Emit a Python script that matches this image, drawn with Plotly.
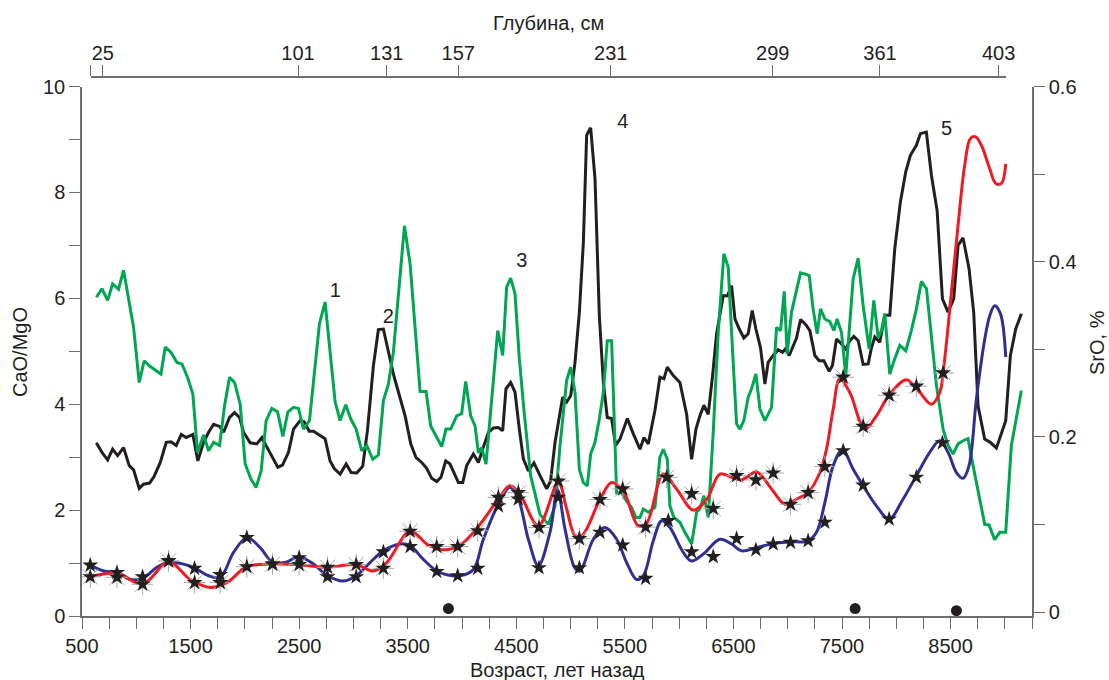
import plotly.graph_objects as go

# ---------------- data ----------------
black_age = [632, 684, 736, 782, 828, 883, 935, 975, 1027, 1067, 1123, 1165, 1221, 1276, 1319, 1368, 1414, 1460,
             1521, 1567, 1620, 1666, 1712, 1767, 1804, 1859, 1905, 1951, 1988, 2049, 2110, 2157, 2203, 2248, 2304,
             2347, 2402, 2448, 2509, 2546, 2592, 2632, 2687, 2739, 2785, 2825, 2878, 2933, 2979, 3031, 3086, 3129,
             3184, 3230, 3276, 3322, 3368, 3424, 3476, 3528, 3577, 3629, 3675, 3721, 3767, 3807, 3850, 3890, 3936,
             3967, 4007, 4043, 4105, 4151, 4197, 4243, 4289, 4335, 4375, 4405, 4448, 4488, 4528, 4565, 4611, 4663,
             4712, 4780, 4816, 4857, 4927, 4964, 5001, 5041, 5081, 5118, 5148, 5185, 5225, 5265, 5302, 5338, 5378,
             5415, 5455, 5523, 5578, 5639, 5676, 5716, 5777, 5823, 5860, 5891, 5946, 6007, 6069, 6115, 6155, 6191,
             6228, 6268, 6308, 6345, 6406, 6446, 6483, 6514, 6554, 6596, 6636, 6673, 6707, 6750, 6790, 6820, 6866,
             6912, 6952, 6977, 7014, 7050, 7081, 7118, 7167, 7204, 7250, 7290, 7333, 7382, 7412, 7449, 7495, 7535,
             7572, 7609, 7649, 7695, 7741, 7771, 7802, 7848, 7894, 7940, 7986, 8038, 8087, 8130, 8185, 8222, 8277,
             8324, 8376, 8425, 8477, 8529, 8569, 8615, 8670, 8713, 8753, 8814, 8866, 8922, 8959, 9008, 9051, 9100,
             9152]
black_val = [3.27, 3.09, 2.95, 3.15, 3.03, 3.18, 2.84, 2.76, 2.41, 2.49, 2.51, 2.64, 2.90, 3.28, 3.29, 3.22, 3.43,
             3.37, 3.43, 2.93, 3.28, 3.47, 3.62, 3.58, 3.47, 3.75, 3.84, 3.75, 3.47, 3.27, 3.25, 3.37, 3.19, 3.03,
             2.81, 2.85, 3.09, 3.53, 3.69, 3.67, 3.49, 3.49, 3.42, 3.35, 2.93, 2.78, 2.68, 2.87, 2.71, 2.70, 2.83,
             3.50, 4.73, 5.41, 5.42, 5.01, 4.57, 4.16, 3.78, 3.25, 2.99, 2.90, 2.79, 2.60, 2.54, 2.62, 2.93, 2.87,
             2.65, 2.52, 2.52, 2.84, 3.06, 2.90, 3.19, 3.47, 3.55, 3.56, 3.50, 4.29, 4.41, 4.23, 3.53, 2.97, 2.74,
             2.89, 2.68, 2.40, 2.55, 3.28, 4.13, 4.04, 4.16, 4.79, 5.74, 7.06, 9.08, 9.22, 8.26, 5.67, 4.41, 3.75,
             3.73, 3.22, 3.34, 3.73, 3.44, 3.15, 3.37, 3.25, 3.88, 4.51, 4.48, 4.70, 4.54, 4.41, 3.81, 2.96, 3.53,
             3.78, 3.98, 3.81, 4.54, 5.33, 6.05, 6.05, 6.24, 5.61, 5.42, 5.25, 5.33, 5.77, 5.42, 5.06, 4.38, 4.79,
             4.92, 5.03, 4.98, 5.04, 4.92, 5.11, 5.25, 5.60, 5.50, 5.39, 4.92, 4.82, 4.82, 4.62, 4.73, 5.23, 5.14,
             5.04, 5.20, 5.28, 5.20, 4.75, 4.76, 5.06, 5.27, 5.17, 5.68, 5.68, 6.94, 7.82, 8.39, 8.70, 8.89, 9.11,
             9.14, 8.32, 7.66, 5.99, 5.74, 5.99, 7.00, 7.14, 6.56, 5.74, 3.97, 3.34, 3.28, 3.17, 3.40, 3.69, 4.92,
             5.42, 5.71]

green_age = [632, 684, 736, 782, 837, 883, 929, 975, 1027, 1073, 1123, 1175, 1227, 1267, 1319, 1374, 1420, 1472,
             1521, 1564, 1620, 1666, 1712, 1767, 1813, 1859, 1905, 1957, 2003, 2055, 2104, 2150, 2196, 2248, 2301,
             2350, 2396, 2448, 2494, 2540, 2595, 2641, 2687, 2739, 2785, 2831, 2877, 2929, 2976, 3025, 3077, 3123,
             3178, 3230, 3276, 3322, 3368, 3414, 3470, 3522, 3568, 3614, 3669, 3712, 3761, 3813, 3853, 3896, 3951,
             3997, 4034, 4080, 4120, 4151, 4181, 4221, 4289, 4329, 4375, 4411, 4448, 4488, 4528, 4571, 4632, 4681,
             4718, 4795, 4857, 4903, 4964, 5001, 5041, 5081, 5118, 5154, 5185, 5225, 5265, 5302, 5338, 5378, 5424,
             5470, 5516, 5562, 5602, 5639, 5670, 5716, 5777, 5823, 5854, 5891, 5915, 5952, 6007, 6053, 6115, 6161,
             6191, 6228, 6268, 6314, 6360, 6412, 6452, 6492, 6529, 6560, 6596, 6636, 6667, 6707, 6744, 6790, 6851,
             6897, 6934, 6968, 6995, 7035, 7075, 7118, 7158, 7198, 7234, 7271, 7302, 7342, 7388, 7425, 7455, 7495,
             7535, 7563, 7603, 7649, 7695, 7750, 7793, 7833, 7864, 7894, 7940, 7986, 8032, 8087, 8139, 8185, 8231,
             8278, 8324, 8370, 8431, 8477, 8523, 8569, 8615, 8661, 8707, 8769, 8815, 8854, 8906, 8953, 9008, 9060,
             9100, 9152]
green_val = [6.02, 6.18, 5.96, 6.27, 6.17, 6.53, 5.99, 5.45, 4.41, 4.82, 4.72, 4.65, 4.57, 5.08, 4.98, 4.79, 4.76,
             4.51, 4.19, 3.09, 3.42, 3.12, 3.28, 3.22, 3.97, 4.51, 4.41, 4.00, 2.87, 2.59, 2.43, 2.74, 3.69, 3.92,
             3.86, 3.39, 3.85, 3.94, 3.92, 3.53, 3.69, 4.60, 5.52, 5.93, 5.04, 4.05, 3.69, 3.99, 3.72, 3.53, 3.12,
             3.22, 2.96, 3.04, 4.07, 4.38, 4.98, 5.99, 7.37, 6.65, 5.42, 4.24, 4.24, 3.59, 3.40, 3.20, 3.53, 3.53,
             3.78, 3.82, 4.43, 3.78, 3.59, 3.08, 3.18, 2.87, 4.45, 5.39, 4.92, 6.21, 6.38, 6.09, 4.86, 3.88, 2.65,
             2.24, 1.92, 1.73, 2.08, 3.22, 4.45, 4.70, 4.22, 2.77, 2.52, 2.46, 3.06, 3.28, 3.72, 4.23, 5.20, 5.20,
             2.33, 2.33, 2.17, 2.05, 1.86, 1.86, 2.02, 1.96, 2.05, 3.00, 3.15, 2.96, 2.08, 1.86, 1.77, 1.58, 1.36,
             1.96, 2.02, 2.27, 1.86, 3.47, 5.36, 6.84, 6.59, 5.01, 3.63, 3.53, 3.69, 4.13, 4.29, 4.57, 3.91, 3.69,
             3.94, 5.45, 5.39, 6.13, 4.95, 5.74, 6.08, 6.48, 6.46, 6.43, 5.80, 5.33, 5.80, 5.61, 5.56, 5.39, 5.61,
             5.36, 4.54, 5.36, 6.37, 6.76, 5.86, 5.04, 5.96, 5.26, 5.39, 5.71, 4.57, 4.86, 5.11, 5.01, 5.39, 5.80,
             6.32, 6.18, 5.23, 4.35, 3.53, 3.22, 3.06, 3.25, 3.31, 3.35, 2.84, 2.21, 1.73, 1.72, 1.44, 1.58, 1.58,
             3.22, 3.69, 4.26]

red_curve_age = [576, 822, 1058, 1297, 1497, 1681, 1834, 2018, 2255, 2500, 2761, 3025, 3184, 3307, 3522, 3690,
                 3859, 4013, 4166, 4335, 4442, 4534, 4703, 4887, 4964, 5041, 5102, 5271, 5378, 5486, 5624, 5700,
                 5854, 5976, 6130, 6253, 6375, 6483, 6575, 6713, 6851, 6974, 7081, 7188, 7296, 7357, 7419, 7480,
                 7572, 7710, 7817, 7934, 8094, 8216, 8324, 8400, 8446, 8508, 8569, 8630, 8683, 8731, 8784, 8860,
                 8916, 8968, 9008]
red_curve_val = [0.74, 0.81, 0.60, 1.02, 0.69, 0.54, 0.63, 0.93, 0.98, 0.97, 0.92, 0.97, 0.85, 1.01, 1.60, 1.34,
                 1.25, 1.39, 1.73, 2.21, 2.46, 2.30, 1.70, 2.52, 2.02, 1.52, 1.51, 2.20, 2.52, 2.36, 1.70, 1.75,
                 2.68, 2.40, 2.00, 2.20, 2.68, 2.62, 2.57, 2.72, 2.40, 2.11, 2.21, 2.33, 2.71, 3.15, 3.91, 4.48,
                 4.22, 3.53, 3.78, 4.17, 4.46, 4.22, 4.00, 4.22, 4.86, 6.12, 7.38, 8.51, 9.02, 9.05, 8.89, 8.45,
                 8.17, 8.17, 8.54]

red_star_age = [576, 822, 1058, 1297, 1537, 1773, 2018, 2255, 2500, 2761, 3025, 3276, 3522, 3767, 3960, 4145,
                4335, 4519, 4709, 4887, 5081, 5271, 5480, 5691, 5885, 6115, 6314, 6529, 6707, 6866, 7026, 7188,
                7342, 7511, 7695, 7934, 8185, 8431]
red_star_val = [0.74, 0.73, 0.60, 1.04, 0.63, 0.63, 0.93, 0.98, 0.97, 0.92, 0.97, 0.90, 1.60, 1.31, 1.31, 1.61,
                2.24, 2.33, 1.67, 2.55, 1.46, 2.20, 2.40, 1.68, 2.62, 2.31, 2.03, 2.65, 2.57, 2.70, 2.11, 2.33,
                2.82, 4.51, 3.58, 4.17, 4.34, 4.59]

blue_curve_age = [576, 699, 822, 945, 1058, 1190, 1297, 1435, 1537, 1666, 1773, 1896, 2018, 2141, 2255, 2371,
                  2500, 2632, 2761, 2908, 3025, 3153, 3276, 3430, 3522, 3644, 3767, 3859, 3982, 4105, 4197, 4335,
                  4442, 4519, 4611, 4703, 4810, 4880, 4949, 5041, 5087, 5210, 5317, 5424, 5516, 5608, 5670, 5762,
                  5839, 5915, 6038, 6115, 6222, 6375, 6483, 6575, 6713, 6866, 7026, 7188, 7265, 7342, 7419, 7505,
                  7603, 7695, 7817, 7934, 8063, 8185, 8308, 8400, 8477, 8554, 8615, 8670, 8738, 8815, 8861, 8906,
                  8959, 9008]
blue_curve_val = [0.96, 0.85, 0.82, 0.69, 0.71, 0.92, 1.01, 0.98, 0.91, 0.76, 0.73, 1.20, 1.48, 1.29, 1.01, 1.01,
                  1.12, 0.98, 0.76, 0.66, 0.76, 1.01, 1.23, 1.36, 1.33, 1.07, 0.85, 0.78, 0.76, 0.88, 1.45, 2.11,
                  2.43, 2.21, 1.45, 0.95, 1.58, 2.38, 1.64, 0.90, 0.85, 1.45, 1.67, 1.45, 1.01, 0.69, 0.76, 1.42,
                  1.80, 1.67, 1.20, 1.04, 1.17, 1.45, 1.36, 1.23, 1.29, 1.37, 1.40, 1.42, 1.58, 2.14, 2.84, 3.14,
                  2.77, 2.46, 2.08, 1.83, 2.21, 2.65, 3.09, 3.31, 3.09, 2.71, 2.60, 2.84, 4.10, 5.23, 5.67, 5.86,
                  5.71, 4.89]

blue_star_age = [576, 822, 1058, 1297, 1537, 1773, 2018, 2255, 2500, 2761, 3025, 3276, 3522, 3767, 3960, 4145,
                 4335, 4519, 4709, 4887, 5081, 5271, 5480, 5691, 5900, 6115, 6314, 6529, 6707, 6866, 7026, 7188,
                 7342, 7511, 7695, 7934, 8185, 8425]
blue_star_val = [0.96, 0.82, 0.74, 1.04, 0.90, 0.78, 1.48, 0.98, 1.10, 0.74, 0.74, 1.21, 1.31, 0.84, 0.76, 0.90,
                 2.08, 2.21, 0.91, 2.24, 0.91, 1.58, 1.34, 0.71, 1.80, 1.21, 1.12, 1.46, 1.25, 1.36, 1.39, 1.42,
                 1.77, 3.12, 2.47, 1.83, 2.62, 3.27]

dot_age = [3875, 7621, 8554]
dot_val = [0.14, 0.14, 0.10]

peak_labels = ["1", "2", "3", "4", "5"]
peak_age = [2832, 3322, 4550, 5480, 8462]
peak_val = [6.11, 5.63, 6.68, 9.31, 9.18]

age_major = [500, 1500, 2500, 3500, 4500, 5500, 6500, 7500, 8500]
age_minor = [750, 1000, 1250, 1750, 2000, 2250, 2750, 3000, 3250, 3750, 4000, 4250, 4750, 5000, 5250,
             5750, 6000, 6250, 6750, 7000, 7250, 7750, 8000, 8250, 8750, 9000, 9250]
depth_labels = ["", "25", "101", "131", "157", "231", "299", "361", "403"]
depth_age = [580, 691, 2490, 3307, 3965, 5370, 6862, 7850, 8943]

cao_major = [0, 2, 4, 6, 8, 10]
cao_minor = [1, 3, 5, 7, 9]
sro_major = [0, 0.2, 0.4, 0.6]
sro_labels = ["0", "0.2", "0.4", "0.6"]
sro_minor = [0.1, 0.3, 0.5]

# ---------------- styling ----------------
FONT = "Liberation Sans, Arial, Helvetica, sans-serif"
TXT = "#231f20"
AX = "#6d6e71"
BLACK = "#231f20"
GREEN = "#00a651"
RED = "#ed1c24"
BLUE = "#2e3192"
LW = 3.0

W, H = 1109, 680
L, R, T, B = 82, 77, 77, 64
plot_h = H - T - B
ydom_top = (H - B - 86.5) / plot_h  # left axis 10 sits at y=86.5px

fig = go.Figure()

fig.add_trace(go.Scatter(x=black_age, y=black_val, mode="lines",
                         line=dict(color=BLACK, width=LW), hoverinfo="skip"))
fig.add_trace(go.Scatter(x=green_age, y=green_val, mode="lines",
                         line=dict(color=GREEN, width=LW), hoverinfo="skip"))
fig.add_trace(go.Scatter(x=blue_curve_age, y=blue_curve_val, mode="lines",
                         line=dict(color=BLUE, width=LW, shape="spline", smoothing=1.0), hoverinfo="skip"))
fig.add_trace(go.Scatter(x=red_curve_age, y=red_curve_val, mode="lines",
                         line=dict(color=RED, width=LW, shape="spline", smoothing=1.0), hoverinfo="skip"))
fig.add_trace(go.Scatter(x=red_star_age, y=red_star_val, mode="markers",
                         marker=dict(symbol="asterisk-open", size=18, color="#a7a9ac",
                                     line=dict(color="#a7a9ac", width=1)), hoverinfo="skip"))
fig.add_trace(go.Scatter(x=red_star_age, y=red_star_val, mode="markers",
                         marker=dict(symbol="star", size=12, color=BLACK, line=dict(width=0)), hoverinfo="skip"))
fig.add_trace(go.Scatter(x=blue_star_age, y=blue_star_val, mode="markers",
                         marker=dict(symbol="star", size=12, color=BLACK, line=dict(width=0)), hoverinfo="skip"))
fig.add_trace(go.Scatter(x=dot_age, y=dot_val, mode="markers",
                         marker=dict(symbol="circle", size=11, color=BLACK, line=dict(width=0)), hoverinfo="skip"))
fig.add_trace(go.Scatter(x=peak_age, y=peak_val, mode="text", text=peak_labels,
                         textfont=dict(family=FONT, size=20, color=TXT), hoverinfo="skip"))
# traces that only attach the secondary axes
fig.add_trace(go.Scatter(x=[], y=[], yaxis="y2", hoverinfo="skip"))
fig.add_trace(go.Scatter(x=[], y=[], xaxis="x3", hoverinfo="skip"))

axis_common = dict(showgrid=False, zeroline=False, showline=True, linecolor=AX, linewidth=1.5,
                   ticks="outside", ticklen=11, tickwidth=1.4, tickcolor=AX,
                   tickfont=dict(family=FONT, size=20, color=TXT))

fig.update_layout(
    width=W, height=H, showlegend=False,
    paper_bgcolor="white", plot_bgcolor="rgba(0,0,0,0)",
    margin=dict(l=L, r=R, t=T, b=B, pad=0),
    font=dict(family=FONT, size=20, color=TXT),
    xaxis=dict(range=[500, 9250], domain=[0, 1], anchor="y",
               tickmode="array", tickvals=age_major, ticktext=[str(v) for v in age_major],
               minor=dict(tickvals=age_minor, ticks="outside", ticklen=11, tickwidth=1.4, tickcolor=AX),
               **axis_common),
    yaxis=dict(range=[0, 10], domain=[0, ydom_top], anchor="x",
               tickmode="array", tickvals=cao_major, ticktext=[str(v) for v in cao_major],
               minor=dict(tickvals=cao_minor, ticks="outside", ticklen=11, tickwidth=1.4, tickcolor=AX),
               **axis_common),
    yaxis2=dict(range=[-0.00456, 0.6], overlaying="y", side="right", anchor="x",
                tickmode="array", tickvals=sro_major, ticktext=sro_labels,
                minor=dict(tickvals=sro_minor, ticks="outside", ticklen=11, tickwidth=1.4, tickcolor=AX),
                **axis_common),
    xaxis3=dict(range=[580, 9011], domain=[(90.7 - L) / (W - L - R), (1006 - L) / (W - L - R)],
                anchor="free", position=1, side="top",
                tickmode="array", tickvals=depth_age, ticktext=depth_labels,
                ticklabelstandoff=-3,
                **axis_common),
)

fig.add_annotation(text="Глубина, см", xref="paper", yref="paper", x=(548 - L) / (W - L - R),
                   y=(H - B - 23) / plot_h, showarrow=False, xanchor="center", yanchor="middle",
                   font=dict(family=FONT, size=20, color=TXT))
fig.add_annotation(text="Возраст, лет назад", xref="paper", yref="paper", x=0.5,
                   y=(H - B - 670) / plot_h, showarrow=False, xanchor="center", yanchor="middle",
                   font=dict(family=FONT, size=20, color=TXT))
fig.add_annotation(text="CaO/MgO", xref="paper", yref="paper", x=(20 - L) / (W - L - R),
                   y=(H - B - 352) / plot_h, showarrow=False, textangle=-90, xanchor="center", yanchor="middle",
                   font=dict(family=FONT, size=20, color=TXT))
fig.add_annotation(text="SrO, %", xref="paper", yref="paper", x=(1097 - L) / (W - L - R),
                   y=(H - B - 343) / plot_h, showarrow=False, textangle=-90, xanchor="center", yanchor="middle",
                   font=dict(family=FONT, size=20, color=TXT))

fig.write_html("out.html", config={"displayModeBar": False},
               post_script="document.body.style.margin='0';document.body.style.overflow='hidden';")
